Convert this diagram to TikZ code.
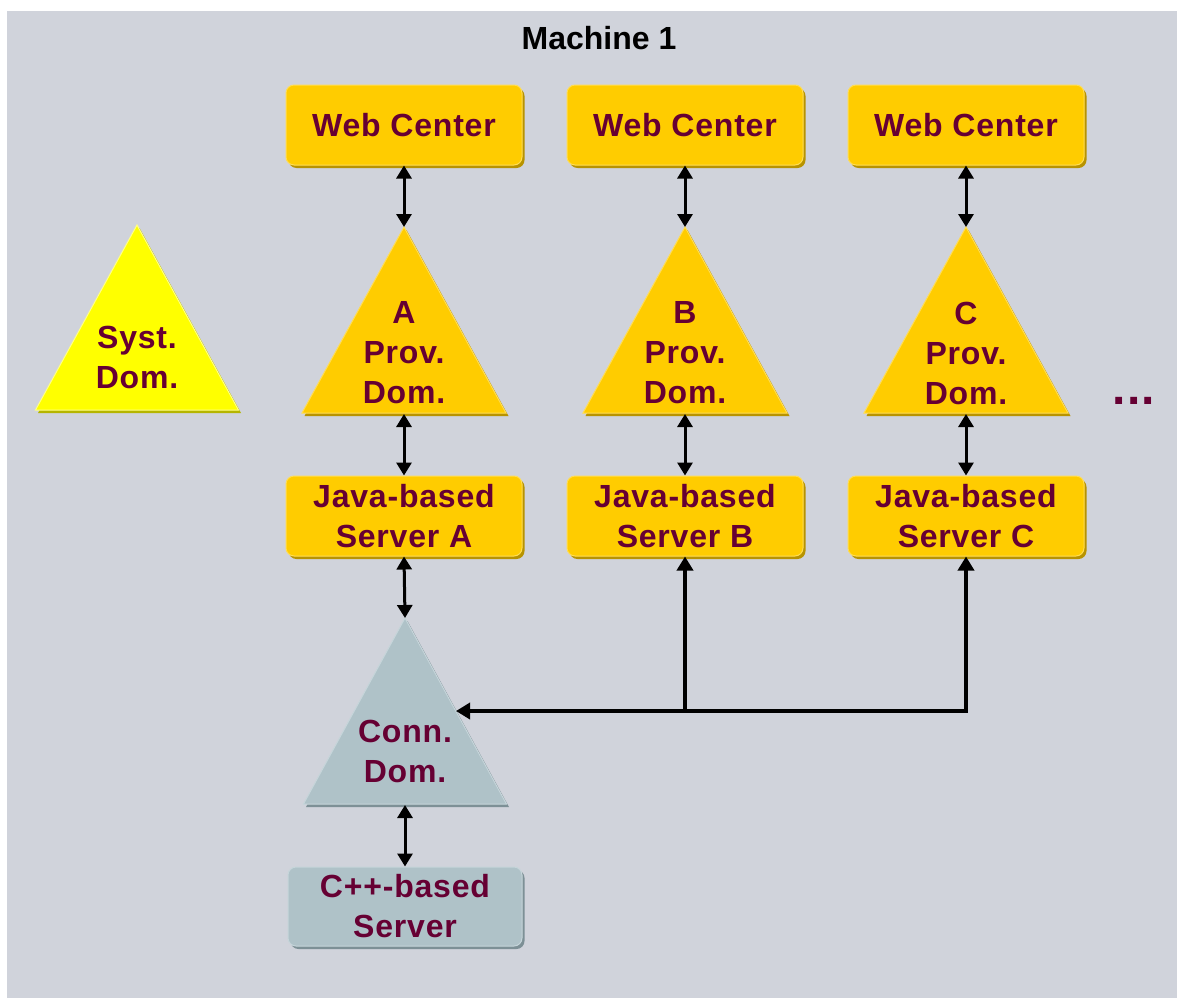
\documentclass[tikz,border=0pt]{standalone}
\usepackage{fontspec}
\setmainfont{Liberation Sans}
\newfontfamily\lblfont{Liberation Sans}[LetterSpace=2.5]
\usetikzlibrary{arrows.meta,shadows}
\definecolor{bg}{HTML}{D0D3DB}
\definecolor{gold}{HTML}{FFCC00}
\definecolor{goldhi}{HTML}{FFDD55}
\definecolor{goldsh}{HTML}{B89300}
\definecolor{syst}{HTML}{FFFF00}
\definecolor{systhi}{HTML}{FFFF88}
\definecolor{systsh}{HTML}{B5B500}
\definecolor{conn}{HTML}{AFC2C8}
\definecolor{connhi}{HTML}{C6D5DA}
\definecolor{connsh}{HTML}{7D9096}
\definecolor{txt}{HTML}{660033}
\tikzset{
  lbl/.style={text=txt, align=center, inner sep=0pt, font=\lblfont\bfseries\fontsize{32}{40}\selectfont},
  box/.style={lbl, rounded corners=8pt, minimum width=236pt, minimum height=80pt, line width=1pt},
  goldbox/.style={box, fill=gold, draw=goldhi, drop shadow={shadow xshift=2.5pt, shadow yshift=-3pt, fill=goldsh, opacity=1}},
  connbox/.style={box, fill=conn, draw=connhi, minimum width=234pt, minimum height=79pt, drop shadow={shadow xshift=2.5pt, shadow yshift=-3pt, fill=connsh, opacity=1}},
  dbl/.style={{Triangle[width=15pt,length=13pt]}-{Triangle[width=15pt,length=13pt]}, line width=3pt, black},
  one/.style={-{Triangle[width=16pt,length=14pt]}, line width=4pt, black, line join=miter},
}
\begin{document}
\begin{tikzpicture}[x=1pt,y=-1pt]
\useasboundingbox (0,0) rectangle (1177,998);
\fill[bg] (7,11) rectangle (1177,998);

\node[anchor=base, font=\bfseries\fontsize{32}{40}\selectfont] (title) at (599,49) {Machine 1};

% Web Center boxes
\node[goldbox] (wa) at (404,125) {Web Center};
\node[goldbox] (wb) at (685,125) {Web Center};
\node[goldbox] (wc) at (966,125) {Web Center};

% System domain triangle
\fill[systsh] (139.5,228) -- (241,413) -- (38,413) -- cycle;
\fill[syst, draw=systhi, line width=1pt] (137,225) -- (238.5,410) -- (35.5,410) -- cycle;
\node[lbl] (sd) at (137,357) {Syst.\\Dom.};

% Provider domain triangles
\foreach \cx/\n/\L in {404/a/A,685/b/B,966/c/C}{
  \fill[goldsh] (\cx+2.5,230) -- (\cx+104.5,416) -- (\cx-99.5,416) -- cycle;
  \fill[gold, draw=goldhi, line width=1pt] (\cx,227) -- (\cx+102,413) -- (\cx-102,413) -- cycle;
  \coordinate (t\n top) at (\cx,227);
  \coordinate (t\n bot) at (\cx,414);
  \node[lbl] (t\n) at (\cx,353) {\L\\Prov.\\Dom.};
}

% Java-based servers
\node[goldbox] (ja) at (404,516) {Java-based\\Server A};
\node[goldbox] (jb) at (685,516) {Java-based\\Server B};
\node[goldbox] (jc) at (966,516) {Java-based\\Server C};

% Connector domain triangle
\fill[connsh] (407.5,621) -- (509,807) -- (306,807) -- cycle;
\fill[conn, draw=connhi, line width=1pt] (405,618) -- (506.5,804) -- (303.5,804) -- cycle;
\coordinate (ctop) at (405,618);
\coordinate (cbot) at (405,805);
\coordinate (cright) at (456,711);
\node[lbl] (cd) at (405,751) {Conn.\\Dom.};

% C++ server
\node[connbox] (cpp) at (405,906.5) {C++-based\\Server};

% dots
\node[lbl, anchor=base, font=\lblfont\bfseries\fontsize{48}{48}\selectfont] (dots) at (1134,404) {...};

% connectors
\draw[dbl] (wa.south) -- (tatop);
\draw[dbl] (wb.south) -- (tbtop);
\draw[dbl] (wc.south) -- (tctop);
\draw[dbl] (tabot) -- (ja.north);
\draw[dbl] (tbbot) -- (jb.north);
\draw[dbl] (tcbot) -- (jc.north);
\draw[dbl] (ja.south) -- (ctop);
\draw[dbl] (cbot) -- (cpp.north);
\coordinate (jbj) at (jb.south |- cright);
\draw[one] (jbj) -- (cright);
\draw[one] (jbj) -- (jb.south);
\draw[one] (jbj) -- (jc.south |- cright) -- (jc.south);
\end{tikzpicture}
\end{document}
